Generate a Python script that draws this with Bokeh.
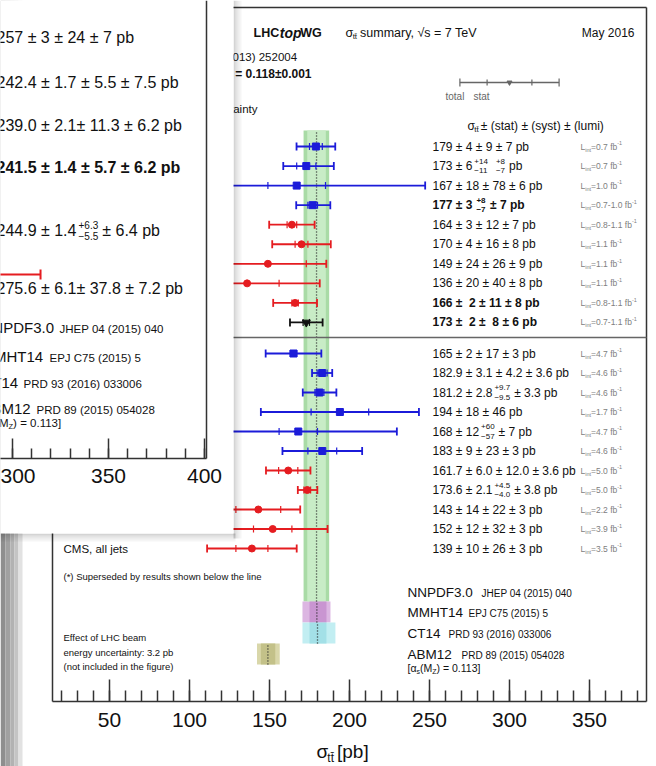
from bokeh.plotting import figure
from bokeh.models import Range1d, LinearAxis, FixedTicker, ColumnDataSource
from bokeh.core.properties import value
from bokeh.embed import file_html
from bokeh.resources import INLINE

# ---------------- main chart data: sigma_tt at 7 TeV (pb) ----------------
XS_VALUE = [179, 173, 167, 177, 164, 170, 149, 136, 166, 173,
            165, 182.9, 181.2, 194, 168, 183, 161.7, 173.6, 143, 152, 139]
XS_STAT = [4, 6, 18, 3, 3, 4, 24, 20, 2, 2,
           2, 3.1, 2.8, 18, 12, 9, 6.0, 2.1, 14, 12, 10]
XS_TOTAL_DOWN = [12.1, 14.4, 80.3, 10.3, 14.2, 18.3, 36.5, 45.4, 13.7, 10.2,
                 17.4, 6.3, 10.4, 49.4, 58.7, 24.9, 13.9, 5.9, 26.2, 34.3, 28.0]
XS_TOTAL_UP = [12.1, 17.2, 80.3, 11.0, 14.2, 18.3, 36.5, 45.4, 13.7, 10.2,
               17.4, 6.3, 10.6, 49.4, 61.6, 24.9, 13.9, 6.3, 26.2, 34.3, 28.0]
EXPERIMENT = ["ATLAS"] * 4 + ["CMS"] * 5 + ["LHC"] + ["ATLAS"] * 6 + ["CMS"] * 5
VALUE_LABEL = ["179 ± 4 ± 9 ± 7 pb", "173 ± 6", "167 ± 18 ± 78 ± 6 pb", "177 ± 3",
               "164 ± 3 ± 12 ± 7 pb", "170 ± 4 ± 16 ± 8 pb", "149 ± 24 ± 26 ± 9 pb",
               "136 ± 20 ± 40 ± 8 pb", "166 ±\u00a0 2 ± 11 ± 8 pb", "173 ±\u00a0 2 ±\u00a0 8 ± 6 pb",
               "165 ± 2 ± 17 ± 3 pb", "182.9 ± 3.1 ± 4.2 ± 3.6 pb", "181.2 ± 2.8",
               "194 ± 18 ± 46 pb", "168 ± 12", "183 ± 9 ± 23 ± 3 pb",
               "161.7 ± 6.0 ± 12.0 ± 3.6 pb", "173.6 ± 2.1", "143 ± 14 ± 22 ± 3 pb",
               "152 ± 12 ± 32 ± 3 pb", "139 ± 10 ± 26 ± 3 pb"]
VALUE_LABEL_TAIL = {1: [("+14", "−11"), ("+8", "−7"), "pb"],
                    3: [("+8", "−7"), "± 7 pb"],
                    12: [("+9.7", "−9.5"), "± 3.3 pb"],
                    14: [("+60", "−57"), "± 7 pb"],
                    17: [("+4.5", "−4.0"), "± 3.8 pb"]}
BOLD_ROWS = [3, 8, 9]
LUMI_LABEL = ["0.7", "0.7", "1.0", "0.7-1.0", "0.8-1.1", "1.1", "1.1", "1.1", "0.8-1.1", "0.7-1.1",
              "4.7", "4.6", "4.6", "1.7", "4.7", "4.6", "5.0", "5.0", "2.2", "3.9", "3.5"]

THEORY_NAME = ["NNPDF3.0", "MMHT14", "CT14", "ABM12"]
THEORY_REF = ["JHEP 04 (2015) 040", "EPJ C75 (2015) 5", "PRD 93 (2016) 033006", "PRD 89 (2015) 054028"]
THEORY_CENTER = [179.4, 179.6, 180.0, 149.0]
THEORY_OUTER_LO = [171.3, 170.6, 170.6, 142.2]
THEORY_OUTER_HI = [187.3, 188.1, 191.2, 156.4]
THEORY_INNER_LO = [173.6, 175.0, 175.0, 144.6]
THEORY_INNER_HI = [185.2, 185.6, 185.6, 153.6]

LEGEND_VALUE = [300.0]
LEGEND_STAT = [14.0]
LEGEND_TOTAL = [31.0]

AXIS_TICKS = [50, 100, 150, 200, 250, 300, 350]
AXIS_MINOR = [20, 30, 40, 50, 60, 70, 80, 90, 100, 110, 120, 130, 140, 150, 160, 170, 180, 190,
              200, 210, 220, 230, 240, 250, 260, 270, 280, 290, 300, 310, 320, 330, 340, 350,
              360, 370, 380]

# ---------------- overlapping page (13 TeV summary) data ----------------
OV_LABEL = ["257 ± 3 ± 24 ± 7 pb", "242.4 ± 1.7 ± 5.5 ± 7.5 pb", "239.0 ± 2.1± 11.3 ± 6.2 pb",
            "241.5 ± 1.4 ± 5.7 ± 6.2 pb", "244.9 ± 1.4", "275.6 ± 6.1± 37.8 ± 7.2 pb"]
OV_LABEL_TAIL = {4: [("+6.3", "−5.5"), "± 6.4 pb"]}
OV_BOLD = [3]
OV_BAR_VALUE = [275.6]
OV_BAR_STAT = [6.1]
OV_BAR_TOTAL = [39.0]
OV_THEORY_REF = ["JHEP 04 (2015) 040", "EPJ C75 (2015) 5", "PRD 93 (2016) 033006", "PRD 89 (2015) 054028"]
OV_TICKS = [300, 350, 400]
OV_MINOR = [290, 300, 310, 320, 330, 340, 350, 360, 370, 380, 390, 400]

# ---------------- layout helpers ----------------
X0_PX, PX_PER_PB = 29.0, 1.6
OV_X0_PX, OV_PX_PER_PB = -564.0, 1.92
FONT = "Liberation Sans"
MAIN, OVER = "underlay", "glyph"


def xp(px):
    return (px - X0_PX) / PX_PER_PB


def row_y(i):
    return 146 + 19.55 * i if i < 10 else 353 + 19.5 * (i - 10)


W = {' ': 278, '(': 333, ')': 333, '*': 389, '+': 584, ',': 278, '-': 333, '.': 278, '/': 278,
     ':': 278, '=': 584, '[': 278, ']': 278, '±': 584, '−': 584, 'σ': 570, 'α': 580, '√': 549,
     '⊕': 750, '\u0304': 0, '\u00a0': 278}
for ch in "0123456789":
    W[ch] = 556
for ch, w in zip("abcdefghijklmnopqrstuvwxyz",
                 [556, 556, 500, 556, 556, 278, 556, 556, 222, 222, 500, 222, 833, 556, 556, 556,
                  556, 333, 500, 278, 556, 500, 722, 500, 500, 500]):
    W[ch] = w
for ch, w in zip("ABCDEFGHIJKLMNOPQRSTUVWXYZ",
                 [667, 667, 722, 722, 667, 611, 778, 722, 278, 500, 667, 556, 833, 722, 778, 667,
                  778, 722, 667, 611, 722, 667, 944, 667, 667, 611]):
    W[ch] = w


def tw(s, size, style="normal"):
    w = sum(W.get(c, 556) for c in s) / 1000.0 * size
    return w * (1.05 if "bold" in style else 1.0)


TXT = {lvl: dict(x=[], y=[], text=[], size=[], style=[], color=[], align=[]) for lvl in (MAIN, OVER)}


def put(level, x, y, s, size, style="normal", color="#111111", align="left"):
    d = TXT[level]
    d["x"].append(xp(x)); d["y"].append(y); d["text"].append(s)
    d["size"].append("%.1fpx" % size); d["style"].append(style)
    d["color"].append(color); d["align"].append(align)


def run(level, x, y, parts, color="#111111", style="normal"):
    for part in parts:
        kind = part[0]
        st = part[3] if len(part) > 3 else style
        if kind == "t":
            put(level, x, y, part[1], part[2], st, color)
            x += tw(part[1], part[2], st)
        elif kind == "sub":
            put(level, x, y + part[2] * 0.55, part[1], part[2], st, color)
            x += tw(part[1], part[2], st)
        elif kind == "sup":
            put(level, x, y - part[2] * 0.6, part[1], part[2], st, color)
            x += tw(part[1], part[2], st)
        elif kind == "stack":
            a, b = part[1]
            put(level, x, y - part[2] * 0.58, a, part[2], st, color)
            put(level, x, y + part[2] * 0.58, b, part[2], st, color)
            x += max(tw(a, part[2], st), tw(b, part[2], st))
        elif kind == "gap":
            x += part[1]
    return x


def value_parts(prefix, tail, size, small):
    parts = [("t", prefix, size)]
    prev = "t"
    for item in tail:
        if isinstance(item, tuple):
            parts += [("gap", 1.5 if prev == "t" else 8), ("stack", item, small)]
            prev = "s"
        else:
            parts += [("gap", 4), ("t", item, size)]
            prev = "t"
    return parts


# ---------------- figure ----------------
p = figure(width=656, height=766, x_range=Range1d(xp(0), xp(656)), y_range=Range1d(766, 0),
           output_backend="svg", toolbar_location=None, x_axis_type=None, y_axis_type=None,
           min_border=0, outline_line_color=None, background_fill_color="white",
           border_fill_color="white")
p.extra_x_ranges = {"ov": Range1d((0 - OV_X0_PX) / OV_PX_PER_PB, (656 - OV_X0_PX) / OV_PX_PER_PB)}

# desk visible at the left of the main page
strip_px = [0, 5, 10, 14, 18, 22]
strip_col = ["#8e8e8e", "#a0a0a0", "#b2b2b2", "#c4c4c4", "#e2e2e2"]
p.quad(left=[xp(v) for v in strip_px[:-1]], right=[xp(v) for v in strip_px[1:]],
       top=[0] * 5, bottom=[766] * 5, fill_color=strip_col, line_color=None, level=MAIN)

# theory bands
BAND_Y = [(130, 601), (601, 622), (622, 643), (643, 664)]
outer_col = ["#a9dba6", "#dcb6e2", "#c2eef2", "#d9d7aa"]
inner_col = ["#c8ecc6", "#c995d1", "#a3e0e7", "#c3c189"]
p.quad(left=THEORY_OUTER_LO, right=THEORY_OUTER_HI, top=[b[0] for b in BAND_Y],
       bottom=[b[1] for b in BAND_Y], fill_color=outer_col, line_color=None, level=MAIN)
p.quad(left=THEORY_INNER_LO, right=THEORY_INNER_HI, top=[b[0] for b in BAND_Y],
       bottom=[b[1] for b in BAND_Y], fill_color=inner_col, line_color=None, level=MAIN)
p.segment(x0=THEORY_CENTER, y0=[b[0] + 2 for b in BAND_Y], x1=THEORY_CENTER,
          y1=[b[1] for b in BAND_Y], line_color="#222222", line_width=1.3, line_dash="1 2",
          level=MAIN)

# frame and separator
FL, FR, FT, FB = xp(52), xp(646), 7, 701
p.segment(x0=[FL, FR, FL, FL, FL], y0=[FT, FT, FT, FB, 337],
          x1=[FL, FR, FR, FR, FR], y1=[FB, FB, FT, FB, 337],
          line_color=["#333333"] * 4 + ["#666666"], line_width=[1.5, 1.5, 1.5, 1.5, 1.3], level=MAIN)

# measurements
COLOR = {"ATLAS": "#1b1bd9", "CMS": "#e51c20", "LHC": "#111111"}
MARK = {"ATLAS": "square", "CMS": "circle", "LHC": "inverted_triangle"}
n = len(XS_VALUE)
ys = [row_y(i) for i in range(n)]
lo = [v - d for v, d in zip(XS_VALUE, XS_TOTAL_DOWN)]
hi = [v + u for v, u in zip(XS_VALUE, XS_TOTAL_UP)]
cols = [COLOR[e] for e in EXPERIMENT]
src = ColumnDataSource(dict(v=XS_VALUE, y=ys, lo=lo, hi=hi, c=cols,
                            slo=[v - s for v, s in zip(XS_VALUE, XS_STAT)],
                            shi=[v + s for v, s in zip(XS_VALUE, XS_STAT)],
                            yt=[y - 4 for y in ys], yb=[y + 4 for y in ys],
                            yst=[y - 3.5 for y in ys], ysb=[y + 3.5 for y in ys]))
p.segment(x0="lo", y0="y", x1="hi", y1="y", line_color="c", line_width=1.8, source=src, level=MAIN)
p.segment(x0="lo", y0="yt", x1="lo", y1="yb", line_color="c", line_width=1.8, source=src, level=MAIN)
p.segment(x0="hi", y0="yt", x1="hi", y1="yb", line_color="c", line_width=1.8, source=src, level=MAIN)
p.segment(x0="slo", y0="yst", x1="slo", y1="ysb", line_color="c", line_width=1.2, source=src, level=MAIN)
p.segment(x0="shi", y0="yst", x1="shi", y1="ysb", line_color="c", line_width=1.2, source=src, level=MAIN)
for e in ["ATLAS", "CMS", "LHC"]:
    idx = [i for i in range(n) if EXPERIMENT[i] == e]
    p.scatter([XS_VALUE[i] for i in idx], [ys[i] for i in idx], marker=MARK[e],
              size=8 if e == "LHC" else 7, fill_color=COLOR[e], line_color=COLOR[e], level=MAIN)

# legend key (total / stat)
ly = 82
p.segment(x0=[LEGEND_VALUE[0] - LEGEND_TOTAL[0]], y0=[ly], x1=[LEGEND_VALUE[0] + LEGEND_TOTAL[0]],
          y1=[ly], line_color="#666666", line_width=1.3, level=MAIN)
p.segment(x0=[LEGEND_VALUE[0] - LEGEND_TOTAL[0], LEGEND_VALUE[0] + LEGEND_TOTAL[0],
              LEGEND_VALUE[0] - LEGEND_STAT[0], LEGEND_VALUE[0] + LEGEND_STAT[0]],
          y0=[ly - 4, ly - 4, ly - 3, ly - 3],
          x1=[LEGEND_VALUE[0] - LEGEND_TOTAL[0], LEGEND_VALUE[0] + LEGEND_TOTAL[0],
              LEGEND_VALUE[0] - LEGEND_STAT[0], LEGEND_VALUE[0] + LEGEND_STAT[0]],
          y1=[ly + 4, ly + 4, ly + 3, ly + 3], line_color="#666666", line_width=1.2, level=MAIN)
p.scatter(LEGEND_VALUE, [ly], marker="inverted_triangle", size=5, fill_color="#666666",
          line_color="#666666", level=MAIN)

# ---------------- main texts ----------------
run(MAIN, 253, 32, [("t", "LHC", 12.5, "bold"), ("t", "top", 14, "bold italic"), ("t", "WG", 12.5, "bold")])
run(MAIN, 345, 32, [("t", "σ", 12.5), ("sub", "tt\u0304", 8), ("gap", 3), ("t", "summary, √s = 7 TeV", 12.5)])
put(MAIN, 634, 32, "May 2016", 12, align="right")
put(MAIN, 297, 56, "Czakon, Fiedler, Mitov, PRL 110 (2013) 252004", 11.5, align="right")
put(MAIN, 311, 73, "mₜₒₚ = 172.5 GeV, αₛ = 0.118±0.001", 12, "bold", align="right")
put(MAIN, 257, 108, "scale ⊕ PDF ⊕ αₛ uncertainty", 11.5, align="right")
put(MAIN, 445, 96, "total", 10, color="#666666")
put(MAIN, 473, 96, "stat", 10, color="#666666")
run(MAIN, 467, 125, [("t", "σ", 12), ("sub", "tt\u0304", 8), ("gap", 2),
                     ("t", "± (stat) ± (syst) ± (lumi)", 12)])

for i in range(n):
    st = "bold" if i in BOLD_ROWS else "normal"
    run(MAIN, 432, ys[i], value_parts(VALUE_LABEL[i], VALUE_LABEL_TAIL.get(i, []), 12, 8), style=st)
    run(MAIN, 580, ys[i], [("t", "L", 8.5), ("sub", "int", 5.5), ("t", "=" + LUMI_LABEL[i] + " fb", 8.5),
                          ("sup", "-1", 5.5)], color="#808080")

put(MAIN, 63, 548, "CMS, all jets", 11.5)
put(MAIN, 63, 576, "(*) Superseded by results shown below the line", 9.5)
put(MAIN, 63, 637, "Effect of LHC beam", 9.5)
put(MAIN, 63, 652, "energy uncertainty: 3.2 pb", 9.5)
put(MAIN, 63, 666, "(not included in the figure)", 9.5)

TH_Y = [592, 612, 633, 654]
TH_REF_X = [481, 468, 448, 461]
for i in range(4):
    put(MAIN, 407, TH_Y[i], THEORY_NAME[i], 13.5)
    put(MAIN, TH_REF_X[i], TH_Y[i] + 1, THEORY_REF[i], 10)
run(MAIN, 407, 667, [("t", "[α", 10.5), ("sub", "s", 7), ("t", "(M", 10.5), ("sub", "Z", 7),
                     ("t", ") = 0.113]", 10.5)])
run(MAIN, 316, 751, [("t", "σ", 19), ("sub", "tt\u0304", 12), ("gap", 3), ("t", "[pb]", 19)])

# ---------------- overlapping page ----------------
PAGE_R, PAGE_B = 233, 533
sh_a = [0.17, 0.11, 0.07, 0.04]
p.quad(left=[xp(PAGE_R + 2 * k) for k in range(4)], right=[xp(PAGE_R + 2 + 2 * k) for k in range(4)],
       top=[0] * 4, bottom=[PAGE_B + 5] * 4, fill_color="#000000", fill_alpha=sh_a, line_color=None,
       level=OVER)
p.quad(left=[xp(0)] * 4, right=[xp(PAGE_R + 2)] * 4, top=[PAGE_B + 2 * k for k in range(4)],
       bottom=[PAGE_B + 2 + 2 * k for k in range(4)], fill_color="#000000", fill_alpha=sh_a,
       line_color=None, level=OVER)
p.quad(left=[xp(-10)], right=[xp(PAGE_R)], top=[-10], bottom=[PAGE_B], fill_color="white",
       line_color=None, level=OVER)

OV_FRAME_RIGHT = (206 - OV_X0_PX) / OV_PX_PER_PB
OV_AXIS_Y = 458
p.segment(x0=[OV_FRAME_RIGHT, 280], y0=[0, OV_AXIS_Y], x1=[OV_FRAME_RIGHT, OV_FRAME_RIGHT],
          y1=[OV_AXIS_Y, OV_AXIS_Y], line_color="#333333", line_width=1.5, x_range_name="ov", level=OVER)
bar_y = 274
p.segment(x0=[OV_BAR_VALUE[0] - OV_BAR_TOTAL[0]], y0=[bar_y], x1=[OV_BAR_VALUE[0] + OV_BAR_TOTAL[0]],
          y1=[bar_y], line_color="#e51c20", line_width=2, x_range_name="ov", level=OVER)
p.segment(x0=[OV_BAR_VALUE[0] + OV_BAR_TOTAL[0], OV_BAR_VALUE[0] + OV_BAR_STAT[0]],
          y0=[bar_y - 5, bar_y - 4], x1=[OV_BAR_VALUE[0] + OV_BAR_TOTAL[0], OV_BAR_VALUE[0] + OV_BAR_STAT[0]],
          y1=[bar_y + 5, bar_y + 4], line_color="#e51c20", line_width=2, x_range_name="ov", level=OVER)

OV_Y = [37, 82, 125, 167, 230, 288]
for i, lab in enumerate(OV_LABEL):
    st = "bold" if i in OV_BOLD else "normal"
    run(OVER, -4, OV_Y[i], value_parts(lab, OV_LABEL_TAIL.get(i, []), 16, 10), style=st)
OV_TH_Y = [327, 356, 382, 408]
OV_REF_X = [59, 49, 23, 36]
for i in range(4):
    put(OVER, -19, OV_TH_Y[i], THEORY_NAME[i], 15)
    put(OVER, OV_REF_X[i], OV_TH_Y[i] + 1, OV_THEORY_REF[i], 11.5)
run(OVER, -19, 422, [("t", "[α", 11.5), ("sub", "s", 7.5), ("t", "(M", 11.5), ("sub", "Z", 7.5),
                     ("t", ") = 0.113]", 11.5)])

# ---------------- text renderers ----------------
for lvl in (MAIN, OVER):
    p.text(x="x", y="y", text="text", text_font_size="size", text_font_style="style",
           text_color="color", text_align="align", text_baseline="middle",
           text_font=value(FONT), source=ColumnDataSource(TXT[lvl]), level=lvl)

# ---------------- axes ----------------
main_axis = LinearAxis(ticker=FixedTicker(ticks=AXIS_TICKS, minor_ticks=AXIS_MINOR),
                       fixed_location=FB, axis_line_color=None,
                       major_tick_in=22, major_tick_out=0, minor_tick_in=11, minor_tick_out=0,
                       major_tick_line_color="#333333", minor_tick_line_color="#333333",
                       major_tick_line_width=1.5, minor_tick_line_width=1.5,
                       major_label_text_font=FONT, major_label_text_font_size="21px",
                       major_label_text_color="#111111", major_label_standoff=11)
p.add_layout(main_axis, "below")
ov_axis = LinearAxis(x_range_name="ov", ticker=FixedTicker(ticks=OV_TICKS, minor_ticks=OV_MINOR),
                     fixed_location=OV_AXIS_Y, axis_line_color=None,
                     major_tick_in=20, major_tick_out=0, minor_tick_in=10, minor_tick_out=0,
                     major_tick_line_color="#333333", minor_tick_line_color="#333333",
                     major_tick_line_width=1.5, minor_tick_line_width=1.5,
                     major_label_text_font=FONT, major_label_text_font_size="21px",
                     major_label_text_color="#111111", major_label_standoff=10)
p.add_layout(ov_axis, "below")

with open("out.html", "w") as f:
    f.write(file_html(p, INLINE, title="sigma_tt summary 7 TeV"))
